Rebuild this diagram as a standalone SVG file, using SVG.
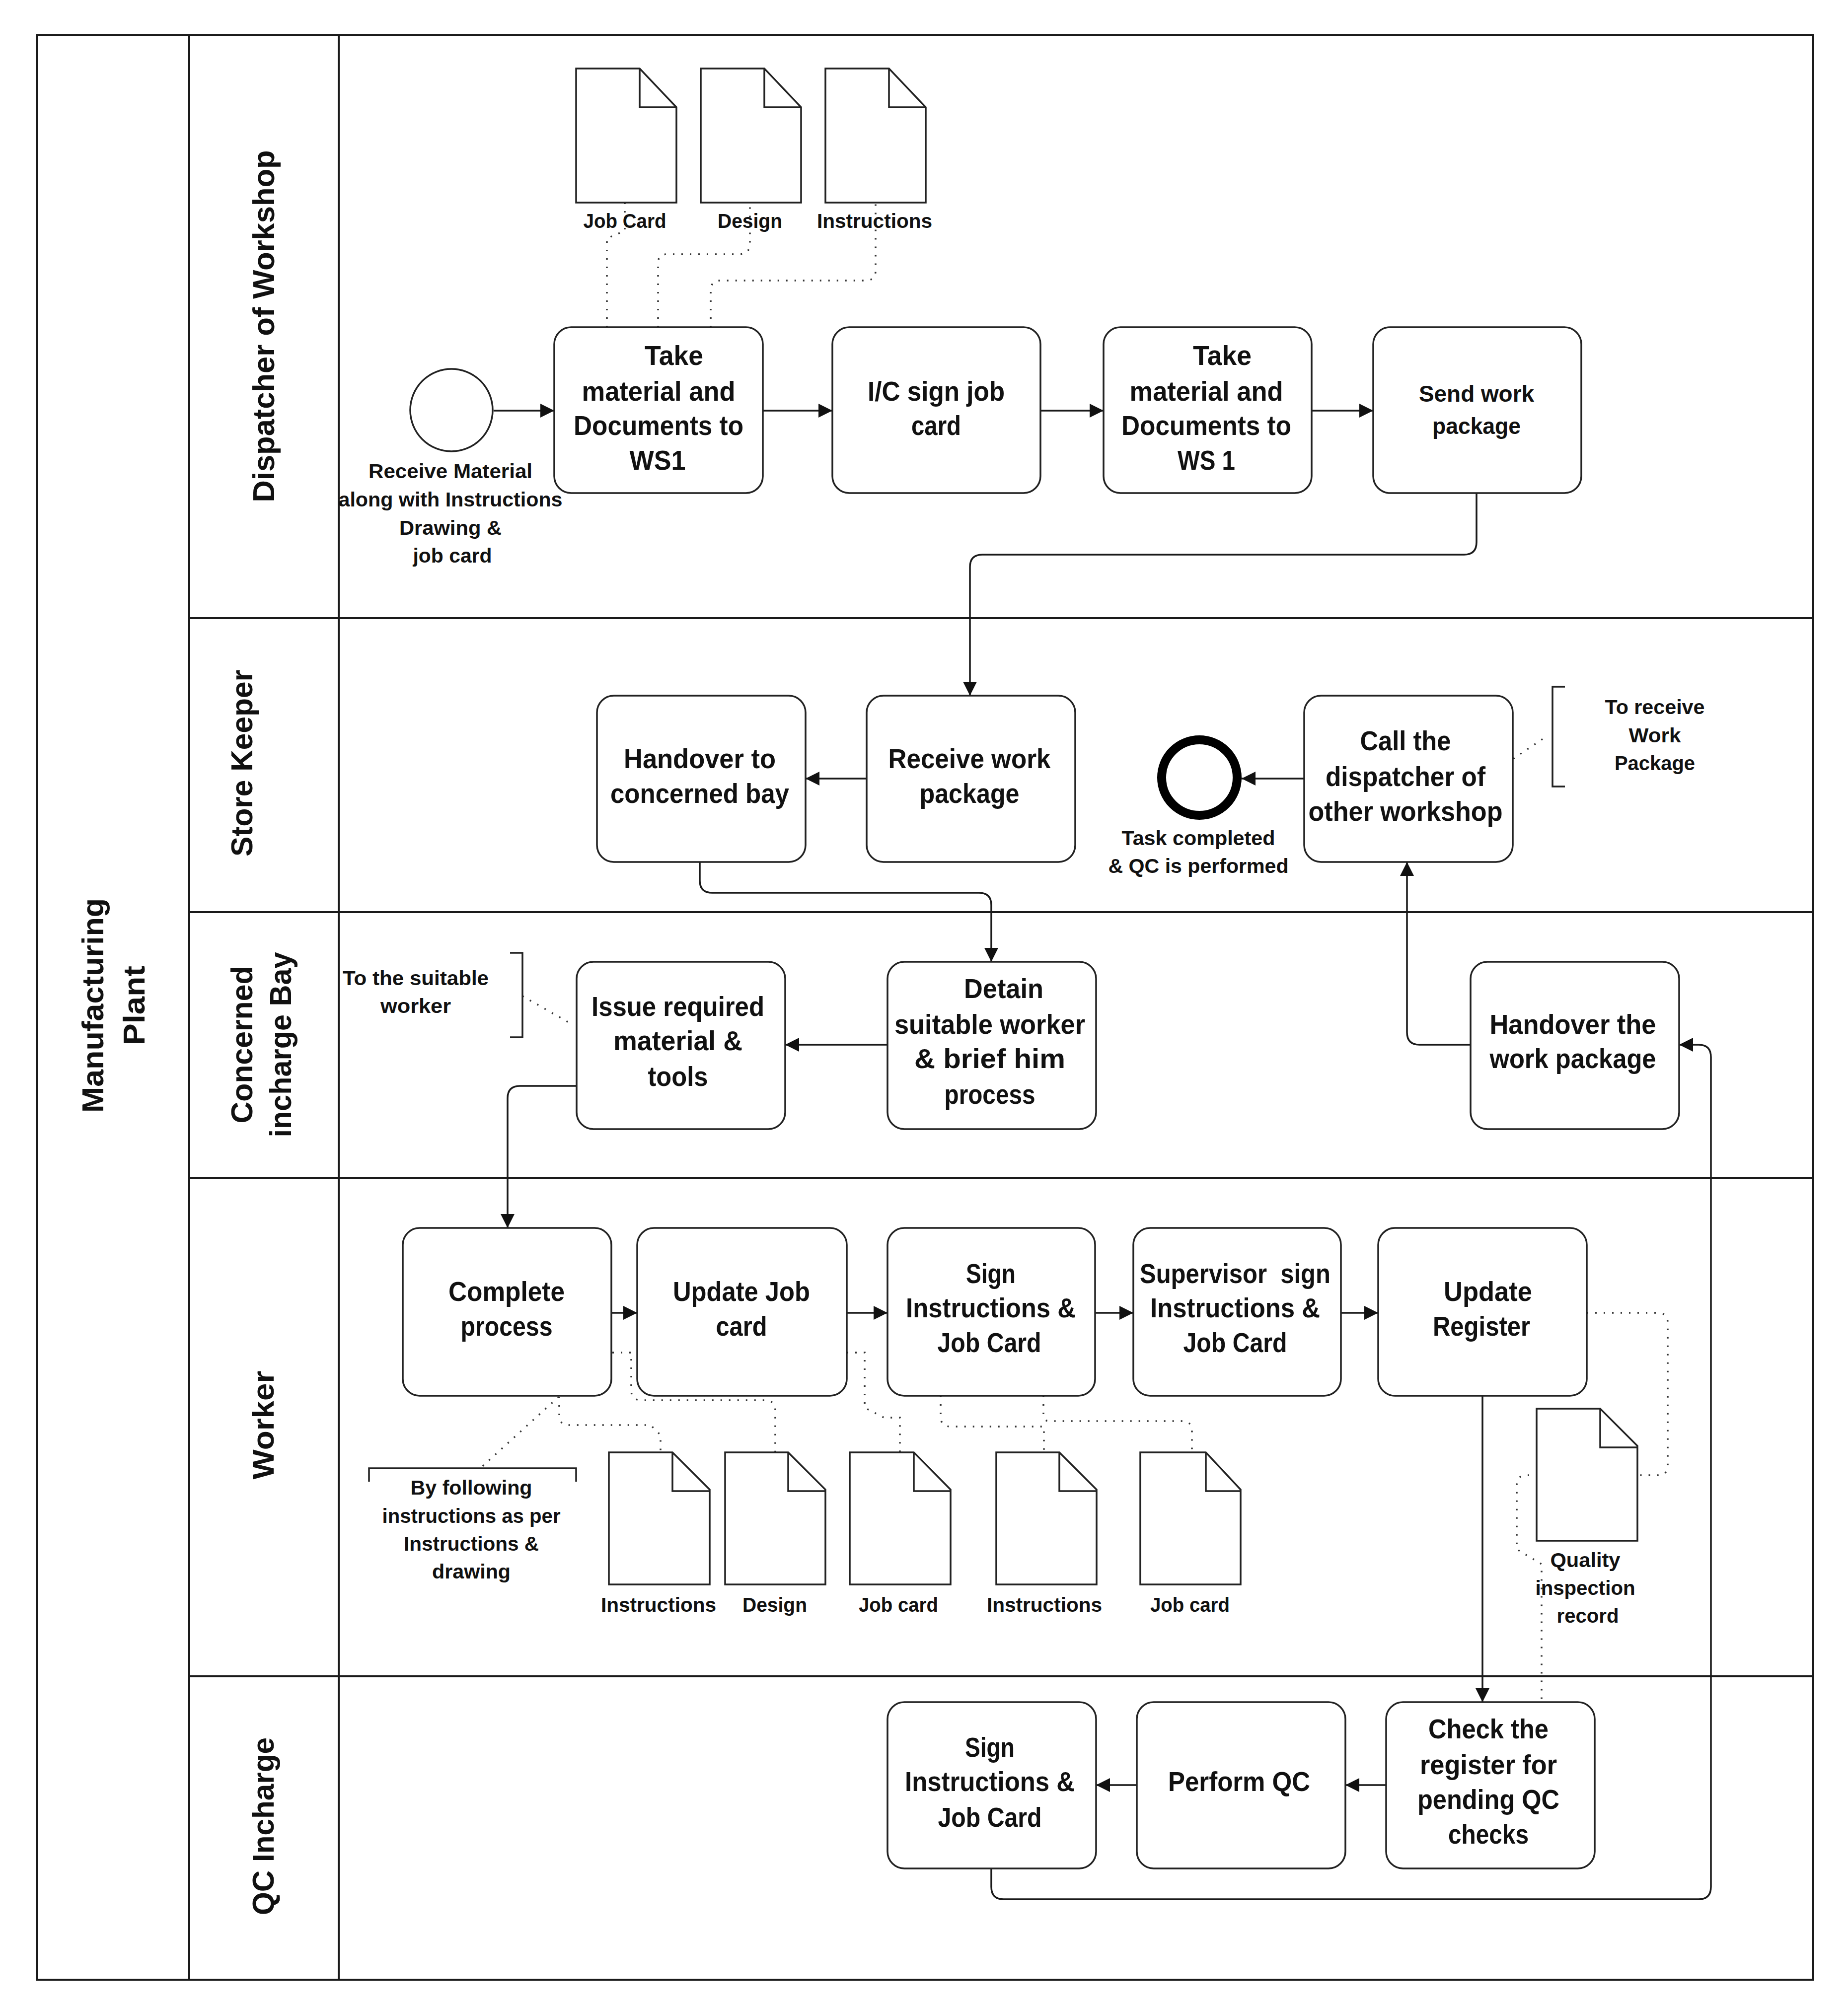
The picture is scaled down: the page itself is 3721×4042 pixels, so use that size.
<svg xmlns="http://www.w3.org/2000/svg" width="3721" height="4042" viewBox="0 0 3721 4042">
<style>
text{font-family:"Liberation Sans",Arial,sans-serif;fill:#111;text-anchor:middle}
.t{font-size:56px;font-weight:700}
.s{font-size:40px;font-weight:700}
.m{font-size:46px;font-weight:700}
.r{font-size:62px;font-weight:700}
.frame{fill:none;stroke:#1a1a1a;stroke-width:4}
.box{fill:#fff;stroke:#222;stroke-width:3.5}
.doc{fill:#fff;stroke:#222;stroke-width:3.5}
.flow{fill:none;stroke:#1a1a1a;stroke-width:3.5}
.dot{fill:none;stroke:#333;stroke-width:3.5;stroke-dasharray:3 14}
.br{fill:none;stroke:#222;stroke-width:3.5}
</style>
<defs>
<marker id="arrow" markerUnits="userSpaceOnUse" markerWidth="30" markerHeight="30" refX="28" refY="15" orient="auto"><path d="M0 1L28 15L0 29Z" fill="#111"/></marker>
</defs>
<rect width="3721" height="4042" fill="#fff"/>
<g id="pool">
<rect class="frame" x="75" y="71" width="3576" height="3916"/>
<path class="frame" d="M381 71V3987M682 71V3987M381 1245H3651M381 1837H3651M381 2372H3651M381 3376H3651"/>
<text class="r" transform="rotate(-90 208 2025)" x="208" y="2025" textLength="432" lengthAdjust="spacingAndGlyphs">Manufacturing</text>
<text class="r" transform="rotate(-90 291 2025)" x="291" y="2025" textLength="160" lengthAdjust="spacingAndGlyphs">Plant</text>
<text class="r" transform="rotate(-90 552 657)" x="552" y="657" textLength="709" lengthAdjust="spacingAndGlyphs">Dispatcher of Workshop</text>
<text class="r" transform="rotate(-90 508 1537)" x="508" y="1537" textLength="376" lengthAdjust="spacingAndGlyphs">Store Keeper</text>
<text class="r" transform="rotate(-90 508 2104)" x="508" y="2104" textLength="317" lengthAdjust="spacingAndGlyphs">Concerned</text>
<text class="r" transform="rotate(-90 586 2104)" x="586" y="2104" textLength="373" lengthAdjust="spacingAndGlyphs">incharge Bay</text>
<text class="r" transform="rotate(-90 551 2870)" x="551" y="2870" textLength="219" lengthAdjust="spacingAndGlyphs">Worker</text>
<text class="r" transform="rotate(-90 551 3678)" x="551" y="3678" textLength="358" lengthAdjust="spacingAndGlyphs">QC Incharge</text>
</g>
<g id="connectors">
<path class="flow" marker-end="url(#arrow)" d="M994 827H1116"/>
<path class="flow" marker-end="url(#arrow)" d="M1536 827H1676"/>
<path class="flow" marker-end="url(#arrow)" d="M2095 827H2222"/>
<path class="flow" marker-end="url(#arrow)" d="M2641 827H2765"/>
<path class="flow" marker-end="url(#arrow)" d="M2973 993V1092Q2973 1117 2948 1117H1978Q1953 1117 1953 1142V1401"/>
<path class="flow" marker-end="url(#arrow)" d="M1745 1568H1622"/>
<path class="flow" marker-end="url(#arrow)" d="M1409 1736V1773Q1409 1798 1434 1798H1971Q1996 1798 1996 1823V1937"/>
<path class="flow" marker-end="url(#arrow)" d="M2626 1568H2500"/>
<path class="flow" marker-end="url(#arrow)" d="M2961 2104H2858Q2833 2104 2833 2079V1736"/>
<path class="flow" marker-end="url(#arrow)" d="M1787 2104H1581"/>
<path class="flow" marker-end="url(#arrow)" d="M1161 2187H1047Q1022 2187 1022 2212V2473"/>
<path class="flow" marker-end="url(#arrow)" d="M1231 2644H1283"/>
<path class="flow" marker-end="url(#arrow)" d="M1705 2644H1787"/>
<path class="flow" marker-end="url(#arrow)" d="M2205 2644H2282"/>
<path class="flow" marker-end="url(#arrow)" d="M2700 2644H2775"/>
<path class="flow" marker-end="url(#arrow)" d="M2985 2811V3428"/>
<path class="flow" marker-end="url(#arrow)" d="M2791 3595H2709"/>
<path class="flow" marker-end="url(#arrow)" d="M2289 3595H2207"/>
<path class="flow" marker-end="url(#arrow)" d="M1996 3763V3800Q1996 3825 2021 3825H3420Q3445 3825 3445 3800V2129Q3445 2104 3420 2104H3381"/>
<path class="dot" d="M1222 659V480L1258 465V408"/>
<path class="dot" d="M1325 659V530Q1325 512 1343 512H1488Q1510 512 1510 490V408"/>
<path class="dot" d="M1431 659V585Q1431 565 1451 565H1743Q1763 565 1763 545V408"/>
<path class="dot" d="M3047 1528L3117 1481"/>
<path class="dot" d="M1052 2006L1152 2063"/>
<path class="dot" d="M1125 2813L967 2957"/>
<path class="dot" d="M1126 2813V2850Q1126 2870 1146 2870H1310L1330 2890V2925"/>
<path class="dot" d="M1233 2724H1271V2800Q1271 2820 1291 2820H1539Q1561 2820 1561 2840V2925"/>
<path class="dot" d="M1705 2724H1741V2835L1780 2855H1812V2925"/>
<path class="dot" d="M1894 2811V2853Q1894 2873 1914 2873H2102V2925"/>
<path class="dot" d="M2101 2811V2850Q2101 2862 2113 2862H2380Q2400 2862 2400 2882V2925"/>
<path class="dot" d="M3195 2644H3338Q3358 2644 3358 2664V2951Q3358 2971 3338 2971H3299"/>
<path class="dot" d="M3096 2971H3074Q3054 2971 3054 2991V3120L3104 3150V3428"/>
</g>
<g id="start"><circle cx="909" cy="826" r="83" fill="#fff" stroke="#222" stroke-width="3.5"/>
<text class="s" x="907" y="963" textLength="330" lengthAdjust="spacingAndGlyphs">Receive Material</text>
<text class="s" x="907" y="1020" textLength="451" lengthAdjust="spacingAndGlyphs">along with Instructions</text>
<text class="s" x="907" y="1077" textLength="206" lengthAdjust="spacingAndGlyphs">Drawing &amp;</text>
<text class="s" x="911" y="1133" textLength="159" lengthAdjust="spacingAndGlyphs">job card</text></g>
<g id="doc-jobcard"><path class="doc" d="M1160 138H1288L1362 216V408H1160ZM1288 138V216H1362"/>
<text class="s" x="1258" y="459" textLength="167" lengthAdjust="spacingAndGlyphs">Job Card</text></g>
<g id="doc-design"><path class="doc" d="M1411 138H1539L1613 216V408H1411ZM1539 138V216H1613"/>
<text class="s" x="1510" y="459" textLength="130" lengthAdjust="spacingAndGlyphs">Design</text></g>
<g id="doc-instructions"><path class="doc" d="M1662 138H1790L1864 216V408H1662ZM1790 138V216H1864"/>
<text class="s" x="1761" y="459" textLength="232" lengthAdjust="spacingAndGlyphs">Instructions</text></g>
<g id="take1" transform="translate(-2 0)"><rect class="box" x="1118" y="659" width="420" height="334" rx="34"/>
<text class="t" x="1359" y="735" textLength="118" lengthAdjust="spacingAndGlyphs">Take</text>
<text class="t" x="1328" y="807" textLength="309" lengthAdjust="spacingAndGlyphs">material and</text>
<text class="t" x="1328" y="876" textLength="342" lengthAdjust="spacingAndGlyphs">Documents to</text>
<text class="t" x="1326" y="946" textLength="113" lengthAdjust="spacingAndGlyphs">WS1</text></g>
<g id="ic-sign" transform="translate(-2 0)"><rect class="box" x="1678" y="659" width="419" height="334" rx="34"/>
<text class="t" x="1887" y="807" textLength="276" lengthAdjust="spacingAndGlyphs">I/C sign job</text>
<text class="t" x="1887" y="876" textLength="100" lengthAdjust="spacingAndGlyphs">card</text></g>
<g id="take2" transform="translate(-2 0)"><rect class="box" x="2224" y="659" width="419" height="334" rx="34"/>
<text class="t" x="2463" y="735" textLength="118" lengthAdjust="spacingAndGlyphs">Take</text>
<text class="t" x="2431" y="807" textLength="309" lengthAdjust="spacingAndGlyphs">material and</text>
<text class="t" x="2431" y="876" textLength="342" lengthAdjust="spacingAndGlyphs">Documents to</text>
<text class="t" x="2431" y="946" textLength="116" lengthAdjust="spacingAndGlyphs">WS 1</text></g>
<g id="send" transform="translate(-2 0)"><rect class="box" x="2767" y="659" width="419" height="334" rx="34"/>
<text class="m" x="2975" y="809" textLength="232" lengthAdjust="spacingAndGlyphs">Send work</text>
<text class="m" x="2975" y="874" textLength="178" lengthAdjust="spacingAndGlyphs">package</text></g>
<g id="handover-bay" transform="translate(2 3)"><rect class="box" x="1200" y="1398" width="420" height="335" rx="34"/>
<text class="t" x="1407" y="1544" textLength="306" lengthAdjust="spacingAndGlyphs">Handover to</text>
<text class="t" x="1407" y="1614" textLength="360" lengthAdjust="spacingAndGlyphs">concerned bay</text></g>
<g id="receive" transform="translate(2 3)"><rect class="box" x="1743" y="1398" width="420" height="335" rx="34"/>
<text class="t" x="1950" y="1544" textLength="327" lengthAdjust="spacingAndGlyphs">Receive work</text>
<text class="t" x="1950" y="1614" textLength="201" lengthAdjust="spacingAndGlyphs">package</text></g>
<g id="end" transform="translate(2 3)"><circle cx="2413" cy="1563" r="76" fill="#fff" stroke="#000" stroke-width="18"/>
<text class="s" x="2411" y="1699" textLength="309" lengthAdjust="spacingAndGlyphs">Task completed</text>
<text class="s" x="2411" y="1755" textLength="363" lengthAdjust="spacingAndGlyphs">&amp; QC is performed</text></g>
<g id="call" transform="translate(2 3)"><rect class="box" x="2624" y="1398" width="420" height="335" rx="34"/>
<text class="t" x="2828" y="1508" textLength="183" lengthAdjust="spacingAndGlyphs">Call the</text>
<text class="t" x="2828" y="1580" textLength="322" lengthAdjust="spacingAndGlyphs">dispatcher of</text>
<text class="t" x="2828" y="1650" textLength="391" lengthAdjust="spacingAndGlyphs">other workshop</text></g>
<g id="note-receive" transform="translate(2 3)"><path class="br" d="M3149 1380H3124V1581H3149"/>
<text class="s" x="3330" y="1435" textLength="201" lengthAdjust="spacingAndGlyphs">To receive</text>
<text class="s" x="3330" y="1492" textLength="105" lengthAdjust="spacingAndGlyphs">Work</text>
<text class="s" x="3330" y="1548" textLength="162" lengthAdjust="spacingAndGlyphs">Package</text></g>
<g id="note-worker" transform="translate(2 3)"><path class="br" d="M1025 1916H1050V2086H1025"/>
<text class="s" x="835" y="1981" textLength="294" lengthAdjust="spacingAndGlyphs">To the suitable</text>
<text class="s" x="835" y="2037" textLength="142" lengthAdjust="spacingAndGlyphs">worker</text></g>
<g id="issue" transform="translate(2 3)"><rect class="box" x="1159" y="1934" width="420" height="337" rx="34"/>
<text class="t" x="1363" y="2043" textLength="348" lengthAdjust="spacingAndGlyphs">Issue required</text>
<text class="t" x="1363" y="2112" textLength="260" lengthAdjust="spacingAndGlyphs">material &amp;</text>
<text class="t" x="1363" y="2184" textLength="121" lengthAdjust="spacingAndGlyphs">tools</text></g>
<g id="detain" transform="translate(2 3)"><rect class="box" x="1785" y="1934" width="420" height="337" rx="34"/>
<text class="t" x="2019" y="2007" textLength="160" lengthAdjust="spacingAndGlyphs">Detain</text>
<text class="t" x="1991" y="2079" textLength="384" lengthAdjust="spacingAndGlyphs">suitable worker</text>
<text class="t" x="1991" y="2148" textLength="304" lengthAdjust="spacingAndGlyphs">&amp; brief him</text>
<text class="t" x="1991" y="2220" textLength="183" lengthAdjust="spacingAndGlyphs">process</text></g>
<g id="handover-wp" transform="translate(2 3)"><rect class="box" x="2959" y="1934" width="420" height="337" rx="34"/>
<text class="t" x="3165" y="2079" textLength="335" lengthAdjust="spacingAndGlyphs">Handover the</text>
<text class="t" x="3165" y="2148" textLength="335" lengthAdjust="spacingAndGlyphs">work package</text></g>
<g id="complete" transform="translate(-2 2)"><rect class="box" x="813" y="2471" width="420" height="338" rx="34"/>
<text class="t" x="1022" y="2618" textLength="234" lengthAdjust="spacingAndGlyphs">Complete</text>
<text class="t" x="1022" y="2688" textLength="185" lengthAdjust="spacingAndGlyphs">process</text></g>
<g id="update-job" transform="translate(-2 2)"><rect class="box" x="1285" y="2471" width="422" height="338" rx="34"/>
<text class="t" x="1495" y="2618" textLength="276" lengthAdjust="spacingAndGlyphs">Update Job</text>
<text class="t" x="1495" y="2688" textLength="103" lengthAdjust="spacingAndGlyphs">card</text></g>
<g id="sign1" transform="translate(-2 2)"><rect class="box" x="1789" y="2471" width="418" height="338" rx="34"/>
<text class="t" x="1997" y="2582" textLength="100" lengthAdjust="spacingAndGlyphs">Sign</text>
<text class="t" x="1997" y="2651" textLength="342" lengthAdjust="spacingAndGlyphs">Instructions &amp;</text>
<text class="t" x="1994" y="2721" textLength="209" lengthAdjust="spacingAndGlyphs">Job Card</text></g>
<g id="supervisor" transform="translate(-2 2)"><rect class="box" x="2284" y="2471" width="418" height="338" rx="34"/>
<text class="t" x="2489" y="2582" textLength="384" lengthAdjust="spacingAndGlyphs" xml:space="preserve">Supervisor  sign</text>
<text class="t" x="2489" y="2651" textLength="342" lengthAdjust="spacingAndGlyphs">Instructions &amp;</text>
<text class="t" x="2489" y="2721" textLength="209" lengthAdjust="spacingAndGlyphs">Job Card</text></g>
<g id="update-reg" transform="translate(-2 2)"><rect class="box" x="2777" y="2471" width="420" height="338" rx="34"/>
<text class="t" x="2998" y="2618" textLength="178" lengthAdjust="spacingAndGlyphs">Update</text>
<text class="t" x="2985" y="2688" textLength="196" lengthAdjust="spacingAndGlyphs">Register</text></g>
<g id="note-following"><path class="br" d="M743 2984V2957H1160V2984"/>
<text class="s" x="949" y="3010" textLength="245" lengthAdjust="spacingAndGlyphs">By following</text>
<text class="s" x="949" y="3067" textLength="359" lengthAdjust="spacingAndGlyphs">instructions as per</text>
<text class="s" x="949" y="3123" textLength="272" lengthAdjust="spacingAndGlyphs">Instructions &amp;</text>
<text class="s" x="949" y="3179" textLength="158" lengthAdjust="spacingAndGlyphs">drawing</text></g>
<g id="doc-w-instructions"><path class="doc" d="M1226 2925H1354L1429 3000V3191H1226ZM1354 2925V3003H1429"/>
<text class="s" x="1326" y="3246" textLength="232" lengthAdjust="spacingAndGlyphs">Instructions</text></g>
<g id="doc-w-design"><path class="doc" d="M1460 2925H1587L1662 3000V3191H1460ZM1587 2925V3003H1662"/>
<text class="s" x="1560" y="3246" textLength="130" lengthAdjust="spacingAndGlyphs">Design</text></g>
<g id="doc-w-jobcard"><path class="doc" d="M1711 2925H1840L1914 3000V3191H1711ZM1840 2925V3003H1914"/>
<text class="s" x="1809" y="3246" textLength="160" lengthAdjust="spacingAndGlyphs">Job card</text></g>
<g id="doc-s-instructions"><path class="doc" d="M2006 2925H2133L2208 3000V3191H2006ZM2133 2925V3003H2208"/>
<text class="s" x="2103" y="3246" textLength="232" lengthAdjust="spacingAndGlyphs">Instructions</text></g>
<g id="doc-s-jobcard"><path class="doc" d="M2296 2925H2428L2498 3000V3191H2296ZM2428 2925V3003H2498"/>
<text class="s" x="2396" y="3246" textLength="160" lengthAdjust="spacingAndGlyphs">Job card</text></g>
<g id="doc-quality"><path class="doc" d="M3094 2837H3222L3297 2912V3103H3094ZM3222 2837V2915H3297"/>
<text class="s" x="3192" y="3156" textLength="141" lengthAdjust="spacingAndGlyphs">Quality</text>
<text class="s" x="3192" y="3212" textLength="201" lengthAdjust="spacingAndGlyphs">inspection</text>
<text class="s" x="3197" y="3268" textLength="125" lengthAdjust="spacingAndGlyphs">record</text></g>
<g id="sign2" transform="translate(2 3)"><rect class="box" x="1785" y="3425" width="420" height="335" rx="34"/>
<text class="t" x="1991" y="3535" textLength="100" lengthAdjust="spacingAndGlyphs">Sign</text>
<text class="t" x="1991" y="3604" textLength="342" lengthAdjust="spacingAndGlyphs">Instructions &amp;</text>
<text class="t" x="1991" y="3676" textLength="209" lengthAdjust="spacingAndGlyphs">Job Card</text></g>
<g id="perform" transform="translate(2 3)"><rect class="box" x="2287" y="3425" width="420" height="335" rx="34"/>
<text class="t" x="2493" y="3604" textLength="286" lengthAdjust="spacingAndGlyphs">Perform QC</text></g>
<g id="check" transform="translate(2 3)"><rect class="box" x="2789" y="3425" width="420" height="335" rx="34"/>
<text class="t" x="2995" y="3498" textLength="242" lengthAdjust="spacingAndGlyphs">Check the</text>
<text class="t" x="2995" y="3570" textLength="276" lengthAdjust="spacingAndGlyphs">register for</text>
<text class="t" x="2995" y="3640" textLength="286" lengthAdjust="spacingAndGlyphs">pending QC</text>
<text class="t" x="2995" y="3710" textLength="162" lengthAdjust="spacingAndGlyphs">checks</text></g>
</svg>
